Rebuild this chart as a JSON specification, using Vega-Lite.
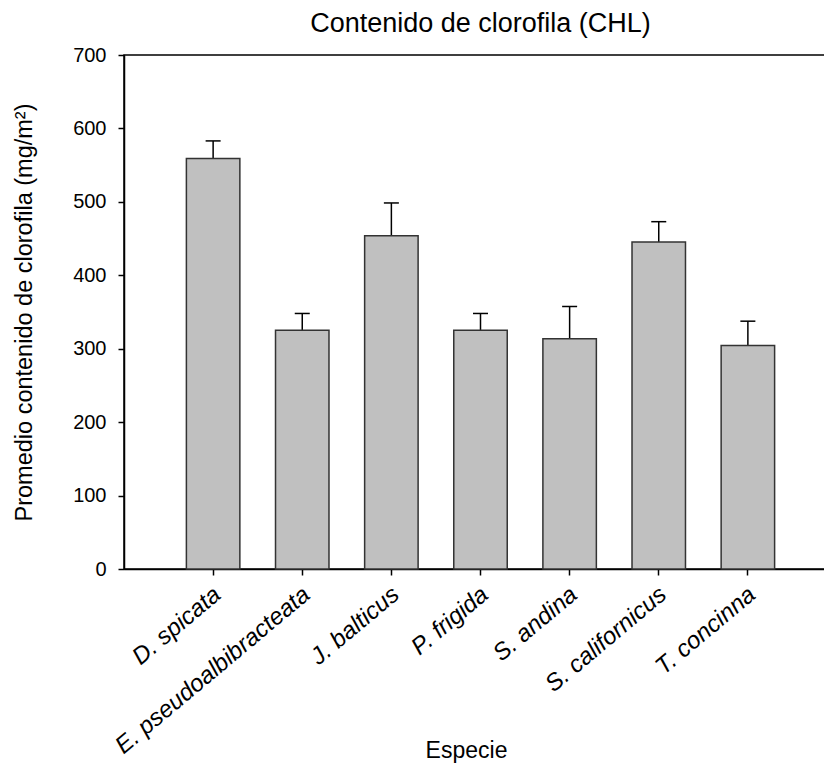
{
  "$schema": "https://vega.github.io/schema/vega-lite/v6.json",
  "autosize": "none",
  "width": 713,
  "height": 514,
  "padding": {"left": 124, "top": 55, "right": 0, "bottom": 206},
  "background": "white",
  "title": {
    "text": "Contenido de clorofila (CHL)",
    "font": "Liberation Sans",
    "fontSize": 27,
    "fontWeight": "normal",
    "color": "black",
    "anchor": "middle",
    "baseline": "alphabetic",
    "offset": 21,
    "dy": 35
  },
  "config": {
    "view": {"stroke": "black", "strokeWidth": 1.5},
    "axis": {
      "labelFont": "Liberation Sans",
      "titleFont": "Liberation Sans",
      "labelColor": "black",
      "titleColor": "black",
      "domainColor": "black",
      "tickColor": "black",
      "domainWidth": 1.5,
      "tickWidth": 1.5,
      "tickSize": 6,
      "grid": false,
      "titleFontWeight": "normal"
    }
  },
  "data": {
    "values": [
      {"especie": "D. spicata", "media": 559, "sup": 583},
      {"especie": "E. pseudoalbibracteata", "media": 325, "sup": 348},
      {"especie": "J. balticus", "media": 454, "sup": 498.5},
      {"especie": "P. frigida", "media": 325, "sup": 348},
      {"especie": "S. andina", "media": 313.5, "sup": 357.5},
      {"especie": "S. californicus", "media": 445.5, "sup": 473},
      {"especie": "T. concinna", "media": 304.5, "sup": 337.5}
    ]
  },
  "encoding": {
    "x": {
      "field": "especie",
      "type": "nominal",
      "sort": null,
      "scale": {"paddingInner": 0.4, "paddingOuter": 0.7},
      "axis": {
        "title": "Especie",
        "titleFontSize": 23,
        "titleX": 342,
        "titleY": 188,
        "titleBaseline": "alphabetic",
        "labelFontSize": 24,
        "labelFontStyle": "italic",
        "labelAngle": -40,
        "labelAlign": "right",
        "labelBaseline": "top",
        "labelPadding": 7,
        "labelOffset": -3,
        "labelLimit": 0
      }
    }
  },
  "layer": [
    {
      "mark": {"type": "rule", "color": "black", "strokeWidth": 1.5},
      "encoding": {
        "y": {"field": "media", "type": "quantitative"},
        "y2": {"field": "sup"}
      }
    },
    {
      "mark": {"type": "tick", "color": "black", "thickness": 1.5, "size": 15, "opacity": 1},
      "encoding": {
        "y": {"field": "sup", "type": "quantitative"}
      }
    },
    {
      "mark": {"type": "bar", "fill": "#c0c0c0", "stroke": "#333333", "strokeWidth": 1.5},
      "encoding": {
        "y": {
          "field": "media",
          "type": "quantitative",
          "scale": {"domain": [0, 700], "nice": false},
          "axis": {
            "title": "Promedio contenido de clorofila (mg/m²)",
            "titleFontSize": 23.5,
            "titlePadding": 36,
            "labelFontSize": 20,
            "labelPadding": 12,
            "values": [0, 100, 200, 300, 400, 500, 600, 700]
          }
        }
      }
    }
  ]
}
